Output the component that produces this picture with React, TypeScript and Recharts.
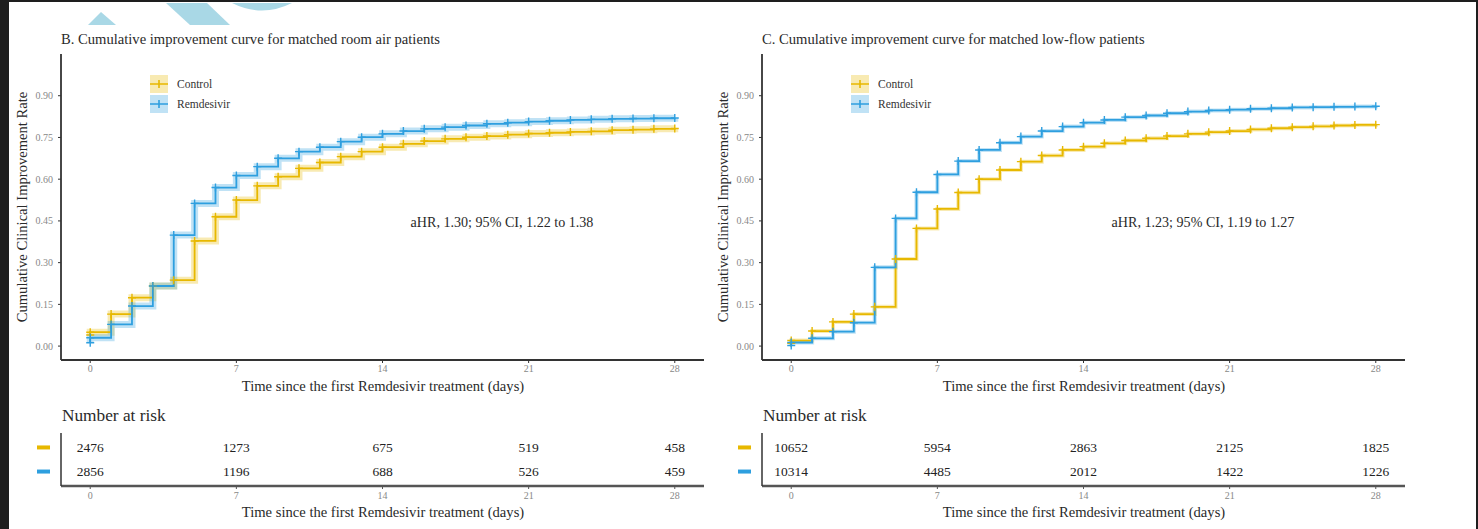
import { LineChart, Line, XAxis, YAxis, ScatterChart, Scatter } from 'recharts'

const SERIF = '"Liberation Serif", "Times New Roman", serif'
const CONTROL = '#E7B800'
const REM = '#2E9FDF'

const DAYS = [0, 1, 2, 3, 4, 5, 6, 7, 8, 9, 10, 11, 12, 13, 14, 15, 16, 17, 18, 19, 20, 21, 22, 23, 24, 25, 26, 27, 28]
const X_TICKS = [0, 7, 14, 21, 28]
const Y_TICKS = [0, 0.15, 0.3, 0.45, 0.6, 0.75, 0.9]

// B. room air
const roomControlStart = 0.04
const roomControl = [0.05, 0.115, 0.174, 0.216, 0.237, 0.378, 0.465, 0.525, 0.576, 0.609, 0.639, 0.66, 0.681, 0.699, 0.715, 0.727, 0.737, 0.745, 0.751, 0.755, 0.76, 0.764, 0.767, 0.77, 0.772, 0.776, 0.778, 0.781, 0.782]
const roomRemStart = 0.012
const roomRem = [0.03, 0.078, 0.144, 0.216, 0.399, 0.513, 0.57, 0.613, 0.645, 0.675, 0.699, 0.715, 0.735, 0.751, 0.763, 0.773, 0.781, 0.787, 0.793, 0.799, 0.803, 0.807, 0.81, 0.813, 0.815, 0.817, 0.818, 0.819, 0.82]

// C. low-flow
const lowControlStart = 0.01
const lowControl = [0.02, 0.054, 0.087, 0.115, 0.141, 0.313, 0.423, 0.493, 0.552, 0.6, 0.633, 0.663, 0.685, 0.705, 0.717, 0.729, 0.739, 0.747, 0.755, 0.763, 0.769, 0.773, 0.779, 0.783, 0.787, 0.79, 0.793, 0.795, 0.796]
const lowRemStart = 0.002
const lowRem = [0.013, 0.028, 0.052, 0.084, 0.283, 0.459, 0.553, 0.617, 0.665, 0.705, 0.731, 0.753, 0.773, 0.789, 0.803, 0.813, 0.823, 0.829, 0.837, 0.843, 0.847, 0.85, 0.853, 0.855, 0.858, 0.859, 0.86, 0.861, 0.862]

// number at risk
const RISK_TIMES = [0, 7, 14, 21, 28]
const roomRiskControl = [2476, 1273, 675, 519, 458]
const roomRiskRem = [2856, 1196, 688, 526, 459]
const lowRiskControl = [10652, 5954, 2863, 2125, 1825]
const lowRiskRem = [10314, 4485, 2012, 1422, 1226]

const toSeries = (start: number, vals: number[]) => [
  { day: 0, v: start },
  ...vals.map((v, i) => ({ day: DAYS[i], v })),
]

function Cross(props: any) {
  const { cx, cy, stroke, index } = props
  if (cx == null || cy == null) return null
  return (
    <path
      key={`c-${index}`}
      d={`M${cx - 4},${cy}H${cx + 4}M${cx},${cy - 4}V${cy + 4}`}
      stroke={stroke}
      strokeWidth={1.4}
      fill="none"
    />
  )
}

function RowTick(props: any) {
  const { x, y, payload } = props
  return <rect x={x - 13} y={y - 2} width={13} height={4} fill={payload.value === 2 ? CONTROL : REM} />
}

function RiskText(props: any) {
  const { cx, cy, payload } = props
  return (
    <text x={cx} y={cy} textAnchor="middle" dominantBaseline="central" fontSize={13.5} fontFamily={SERIF} fill="#222">
      {payload.n}
    </text>
  )
}

const tickStyle = { fontSize: 10, fill: '#888', fontFamily: SERIF }

interface PanelProps {
  left: number
  title: string
  note: string
  control: { day: number; v: number }[]
  rem: { day: number; v: number }[]
  band: number
  riskControl: number[]
  riskRem: number[]
}

function Panel({ left, title, note, control, rem, band, riskControl, riskRem }: PanelProps) {
  const ctrlRows = RISK_TIMES.map((t, i) => ({ t, row: 2, n: riskControl[i] }))
  const remRows = RISK_TIMES.map((t, i) => ({ t, row: 1, n: riskRem[i] }))
  return (
    <div style={{ position: 'absolute', left, top: 0, width: 720, height: 529 }}>
      <div style={{ position: 'absolute', left: 0, top: 0 }}>
        <LineChart width={720} height={400} margin={{ top: 54, right: 16, left: 21, bottom: 20 }}>
          <XAxis
            dataKey="day"
            type="number"
            domain={[-1.4, 29.4]}
            ticks={X_TICKS}
            allowDataOverflow
            height={20}
            tickSize={3}
            tickMargin={2}
            tick={tickStyle}
            stroke="#333"
            axisLine={{ stroke: '#333', strokeWidth: 1.8 }}
          />
          <YAxis
            type="number"
            domain={[-0.05, 1.05]}
            ticks={Y_TICKS}
            allowDataOverflow
            width={40}
            tickSize={3}
            tickMargin={5}
            tick={tickStyle}
            tickFormatter={(v: number) => v.toFixed(2)}
            stroke="#333"
            axisLine={{ stroke: '#333', strokeWidth: 1.8 }}
          />
          <Line data={control} dataKey="v" type="stepAfter" stroke={CONTROL} strokeOpacity={0.3} strokeWidth={band} dot={false} activeDot={false} isAnimationActive={false} />
          <Line data={rem} dataKey="v" type="stepAfter" stroke={REM} strokeOpacity={0.3} strokeWidth={band} dot={false} activeDot={false} isAnimationActive={false} />
          <Line data={control} dataKey="v" type="stepAfter" stroke={CONTROL} strokeWidth={1.8} dot={<Cross />} activeDot={false} isAnimationActive={false} />
          <Line data={rem} dataKey="v" type="stepAfter" stroke={REM} strokeWidth={1.8} dot={<Cross />} activeDot={false} isAnimationActive={false} />
        </LineChart>
      </div>
      <div style={{ position: 'absolute', left: 0, top: 420 }}>
        <ScatterChart width={720} height={100} margin={{ top: 13, right: 16, left: 21, bottom: 14 }}>
          <XAxis
            dataKey="t"
            type="number"
            domain={[-1.4, 29.4]}
            ticks={X_TICKS}
            allowDataOverflow
            height={20}
            tickSize={3}
            tickMargin={3}
            tick={tickStyle}
            stroke="#555"
            axisLine={{ stroke: '#555', strokeWidth: 2.5 }}
          />
          <YAxis
            dataKey="row"
            type="number"
            domain={[0.4, 2.6]}
            ticks={[1, 2]}
            width={40}
            tickLine={false}
            tickSize={0}
            tickMargin={11}
            tick={<RowTick />}
            axisLine={{ stroke: '#333', strokeWidth: 1.5 }}
          />
          <Scatter data={ctrlRows} shape={<RiskText />} isAnimationActive={false} />
          <Scatter data={remRows} shape={<RiskText />} isAnimationActive={false} />
        </ScatterChart>
      </div>
      <svg width={720} height={529} style={{ position: 'absolute', left: 0, top: 0, pointerEvents: 'none' }} fontFamily={SERIF}>
        <text x={61} y={39} dominantBaseline="central" fontSize={14.6} fill="#2a2a2a">{title}</text>
        <text transform="translate(22,207) rotate(-90)" textAnchor="middle" dominantBaseline="central" fontSize={14.6} fill="#2a2a2a">
          Cumulative Clinical Improvement Rate
        </text>
        <text x={383} y={386} textAnchor="middle" dominantBaseline="central" fontSize={14.6} fill="#2a2a2a">
          Time since the first Remdesivir treatment (days)
        </text>
        <text x={502} y={222} textAnchor="middle" dominantBaseline="central" fontSize={14.1} fill="#2a2a2a">{note}</text>
        <text x={62} y={415} dominantBaseline="central" fontSize={17.3} fill="#2a2a2a">Number at risk</text>
        <text x={383} y={512} textAnchor="middle" dominantBaseline="central" fontSize={14.6} fill="#2a2a2a">
          Time since the first Remdesivir treatment (days)
        </text>
        {[
          { name: 'Control', color: CONTROL, y: 84 },
          { name: 'Remdesivir', color: REM, y: 104 },
        ].map((k) => (
          <g key={k.name}>
            <rect x={150} y={k.y - 9} width={18} height={18} fill={k.color} fillOpacity={0.3} />
            <path d={`M150,${k.y}H168M159,${k.y - 4}V${k.y + 4}`} stroke={k.color} strokeWidth={1.6} />
            <text x={177} y={k.y} dominantBaseline="central" fontSize={11.5} fill="#333">{k.name}</text>
          </g>
        ))}
      </svg>
    </div>
  )
}

export default function App() {
  return (
    <div style={{ position: 'fixed', left: 0, top: 0, width: 1478, height: 529, background: '#1e1e1e', overflow: 'hidden' }}>
      <div style={{ position: 'absolute', left: 9, top: 2, width: 1467, height: 527, background: '#fff' }} />
      <svg width={1478} height={25} style={{ position: 'absolute', left: 0, top: 0 }}>
        <polygon points="101,12 88,25 116,25" fill="#a9d8e6" />
        <polygon points="166,3 207,3 230,25 190,25" fill="#a9d8e6" />
        <path d="M232,3 Q262,18 292,3 Z" fill="#a9d8e6" />
      </svg>
      <Panel
        left={0}
        title="B. Cumulative improvement curve for matched room air patients"
        note="aHR, 1.30; 95% CI, 1.22 to 1.38"
        control={toSeries(roomControlStart, roomControl)}
        rem={toSeries(roomRemStart, roomRem)}
        band={7}
        riskControl={roomRiskControl}
        riskRem={roomRiskRem}
      />
      <Panel
        left={701}
        title="C. Cumulative improvement curve for matched low-flow patients"
        note="aHR, 1.23; 95% CI, 1.19 to 1.27"
        control={toSeries(lowControlStart, lowControl)}
        rem={toSeries(lowRemStart, lowRem)}
        band={4}
        riskControl={lowRiskControl}
        riskRem={lowRiskRem}
      />
    </div>
  )
}
